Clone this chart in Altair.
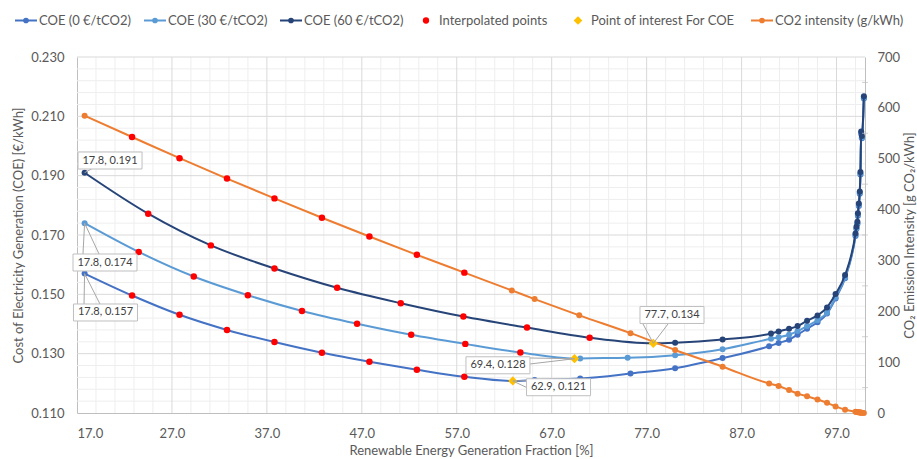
import altair as alt
import pandas as pd

# ---------------- values ----------------
# COE (0 EUR/tCO2)
coe0_x = [17.8, 65.2, 70.0, 75.3, 80.0, 85.0, 89.9, 90.9, 92.0, 92.9, 93.9, 95.0, 96.0, 96.9, 97.9,
          99.0, 99.1, 99.2, 99.25, 99.35, 99.45, 99.52, 99.6, 99.67, 99.88]
coe0_y = [0.157, 0.1211, 0.1216, 0.1233, 0.1251, 0.1285, 0.1325, 0.1336, 0.1347, 0.1364, 0.1384, 0.1406,
          0.1435, 0.1486, 0.1554, 0.1697, 0.1720, 0.1737, 0.1765, 0.1798, 0.1839, 0.1904, 0.2041, 0.2026, 0.2160]
coe0_ix = [22.8, 27.8, 32.8, 37.8, 42.8, 47.8, 52.8, 57.8]
coe0_iy = [0.1496, 0.1431, 0.1380, 0.1339, 0.1303, 0.1273, 0.1246, 0.1222]
coe0_poi = (62.9, 0.1208)

# COE (30 EUR/tCO2)
coe30_x = [17.8, 70.0, 75.0, 80.0, 85.0, 90.1, 90.9, 92.0, 92.9, 93.9, 95.0, 96.0, 96.9, 97.9,
           99.0, 99.1, 99.2, 99.25, 99.35, 99.45, 99.52, 99.6, 99.67, 99.88]
coe30_y = [0.174, 0.1284, 0.1286, 0.1295, 0.1315, 0.1350, 0.1355, 0.1364, 0.1376, 0.1393, 0.1413, 0.1438,
           0.1489, 0.1557, 0.1700, 0.1723, 0.1740, 0.1768, 0.1801, 0.1842, 0.1907, 0.2044, 0.2029, 0.2163]
coe30_ix = [23.5, 29.3, 35.0, 40.7, 46.5, 52.2, 57.9, 63.7]
coe30_iy = [0.1643, 0.1560, 0.1497, 0.1444, 0.1401, 0.1364, 0.1333, 0.1304]
coe30_poi = (69.4, 0.1283)

# COE (60 EUR/tCO2)
coe60_x = [17.8, 80.0, 85.0, 90.1, 90.9, 92.0, 92.9, 93.9, 95.0, 96.0, 96.9, 97.9,
           99.0, 99.1, 99.2, 99.25, 99.35, 99.45, 99.52, 99.6, 99.67, 99.88]
coe60_y = [0.191, 0.1337, 0.1348, 0.1368, 0.1375, 0.1384, 0.1393, 0.1411, 0.1429, 0.1456, 0.1501, 0.1565,
           0.1705, 0.1728, 0.1745, 0.1773, 0.1806, 0.1847, 0.1912, 0.2049, 0.2034, 0.2168]
coe60_ix = [24.5, 31.1, 37.8, 44.4, 51.1, 57.7, 64.4, 71.0]
coe60_iy = [0.1772, 0.1665, 0.1587, 0.1522, 0.1470, 0.1425, 0.1388, 0.1354]
coe60_poi = (77.7, 0.1335)

# CO2 intensity (g/kWh), secondary axis
co2_x = [17.8, 62.8, 65.2, 69.9, 75.3, 80.0, 85.0, 89.9, 90.9, 92.0, 92.9, 93.9, 95.0, 96.0, 96.9, 97.9,
         99.0, 99.1, 99.2, 99.25, 99.35, 99.45, 99.52, 99.6, 99.67, 99.88]
co2_y = [584.6, 241, 224, 192, 157, 124, 91, 58, 53, 45, 38, 33, 26.5, 20, 13, 6.6,
         2.5, 2.1, 1.8, 1.6, 1.3, 1.0, 0.8, 0.6, 0.4, 0.1]
co2_ix = [22.8, 27.8, 32.8, 37.8, 42.8, 47.8, 52.8, 57.8]
co2_iy = [542.7, 501, 461, 422, 384, 347, 311, 276]

# tick labels
x_ticks = [17, 27, 37, 47, 57, 67, 77, 87, 97]
yl_ticks = [0.11, 0.13, 0.15, 0.17, 0.19, 0.21, 0.23]
yr_ticks = [0, 100, 200, 300, 400, 500, 600, 700]

# data labels (text, point, label centre in data units, leader end points)
ann_text = ["17.8, 0.191", "17.8, 0.174", "17.8, 0.157", "62.9, 0.121", "69.4, 0.128", "77.7, 0.134"]
ann_point = [(17.8, 0.191), (17.8, 0.174), (17.8, 0.157), coe0_poi, coe30_poi, coe60_poi]
ann_center = [(20.48, 0.19511), (19.95, 0.16073), (20.00, 0.14388), (67.72, 0.11869), (61.34, 0.12608), (79.67, 0.14304)]
ann_leader = [
    [(18.69, 0.19258)],
    [(17.63, 0.16360), (19.32, 0.16360)],
    [(17.74, 0.14674), (19.42, 0.14674)],
    [(64.40, 0.12090), (64.40, 0.11854)],
    [(64.71, 0.12854), (64.71, 0.12652)],
    [(76.62, 0.14000), (79.25, 0.14000)],
]

# ---------------- layout ----------------
W, H = 788, 356
X_DOM = [17, 100]
YL_DOM = [0.11, 0.23]
YR_DOM = [0, 700]
PX_X = W / (X_DOM[1] - X_DOM[0])
PX_Y = H / (YL_DOM[1] - YL_DOM[0])
FONT = "Lato"
TXT = "#595959"

C0, C30, C60 = "#4472C4", "#5B9BD5", "#264478"
RED, GOLD, ORANGE = "#FF0000", "#FFC000", "#ED7D31"

x_axis = alt.Axis(values=x_ticks, format=".1f", title="Renewable Energy Generation Fraction [%]",
                  grid=False, ticks=False, domainColor="#bfbfbf", labelPadding=14, titlePadding=4)
yl_axis = alt.Axis(values=yl_ticks, format=".3f", title="Cost of Electricity Generation (COE) [€/kWh]",
                   grid=False, ticks=False, domainColor="#bfbfbf", labelPadding=13, titlePadding=5)
yr_axis = alt.Axis(orient="right", values=yr_ticks, format="d", title="CO₂ Emission Intensity [g CO₂/kWh]",
                   grid=False, ticks=False, domainColor="#bfbfbf", labelPadding=12, titlePadding=4,
                   titleAngle=270, titleBaseline="top")


def xe(f="x"):
    return alt.X(f"{f}:Q", scale=alt.Scale(domain=X_DOM, nice=False, zero=False), axis=x_axis)


def yle(f="y"):
    return alt.Y(f"{f}:Q", scale=alt.Scale(domain=YL_DOM, nice=False, zero=False), axis=yl_axis)


def yre(f="y"):
    return alt.Y(f"{f}:Q", scale=alt.Scale(domain=YR_DOM, nice=False, zero=False), axis=yr_axis)


def yte(f="y"):
    return alt.Y(f"{f}:Q", scale=alt.Scale(domain=YL_DOM, nice=False, zero=False), axis=None)


# grid
minor_x = [v for v in range(17, 100, 2) if (v - 17) % 10 != 0]
minor_y = [round(0.11 + 0.004 * i, 3) for i in range(31) if i % 5 != 0]
grid = [
    alt.Chart(pd.DataFrame({"v": minor_x})).mark_rule(color="#eeeeee", strokeWidth=1).encode(x=xe("v")),
    alt.Chart(pd.DataFrame({"v": minor_y})).mark_rule(color="#eeeeee", strokeWidth=1).encode(y=yle("v")),
    alt.Chart(pd.DataFrame({"v": x_ticks[1:]})).mark_rule(color="#d9d9d9", strokeWidth=1).encode(x=xe("v")),
    alt.Chart(pd.DataFrame({"v": yl_ticks[1:]})).mark_rule(color="#d9d9d9", strokeWidth=1).encode(y=yle("v")),
]

series = [
    (C0, coe0_x, coe0_y, coe0_ix, coe0_iy, coe0_poi),
    (C30, coe30_x, coe30_y, coe30_ix, coe30_iy, coe30_poi),
    (C60, coe60_x, coe60_y, coe60_ix, coe60_iy, coe60_poi),
]

left_layers = list(grid)
top_layers = []
for i, (col, xs, ys, ixs, iys, poi) in enumerate(series):
    pts = sorted(list(zip(xs, ys)) + list(zip(ixs, iys)) + [poi])
    ldf = pd.DataFrame(pts, columns=["x", "y"])
    left_layers.append(
        alt.Chart(ldf).mark_line(color=col, strokeWidth=2, interpolate="monotone").encode(x=xe(), y=yle())
    )
    left_layers.append(
        alt.Chart(pd.DataFrame({"x": xs, "y": ys})).mark_point(filled=True, size=36, opacity=1, color=col)
        .encode(x=xe(), y=yle())
    )
    top_layers.append(
        alt.Chart(pd.DataFrame({"x": ixs, "y": iys})).mark_point(filled=True, size=42, opacity=1, color=RED)
        .encode(x=xe(), y=yte())
    )

# secondary axis group
co2_line = sorted(list(zip(co2_x, co2_y)) + list(zip(co2_ix, co2_iy)))
right_layers = [
    alt.Chart(pd.DataFrame(co2_line, columns=["x", "y"])).mark_line(color=ORANGE, strokeWidth=2, interpolate="monotone")
    .encode(x=xe(), y=yre()),
    alt.Chart(pd.DataFrame({"x": co2_x, "y": co2_y})).mark_point(filled=True, size=36, opacity=1, color=ORANGE)
    .encode(x=xe(), y=yre()),
    alt.Chart(pd.DataFrame({"x": co2_ix, "y": co2_iy})).mark_point(filled=True, size=42, opacity=1, color=RED)
    .encode(x=xe(), y=yre()),
    alt.Chart(pd.DataFrame({"v": [50, 150, 250, 350, 450, 550, 650]})).mark_tick(
        orient="horizontal", color="#bfbfbf", thickness=1, size=6).encode(x=alt.value(W), y=yre("v")),
]

# points of interest
poi_df = pd.DataFrame([coe0_poi, coe30_poi, coe60_poi], columns=["x", "y"])
top_layers.append(
    alt.Chart(poi_df).mark_point(filled=True, shape="diamond", size=85, opacity=1, color=GOLD).encode(x=xe(), y=yte())
)

# data labels
lead_rows = []
for (px_, py_), ends in zip(ann_point, ann_leader):
    for (ex, ey) in ends:
        lead_rows.append({"x": px_, "y": py_, "x2": ex, "y2": ey})
top_layers.append(
    alt.Chart(pd.DataFrame(lead_rows)).mark_rule(color="#a6a6a6", strokeWidth=1).encode(
        x=xe(), y=yte(), x2="x2:Q", y2="y2:Q")
)
BW, BH = 64, 17
box_df = pd.DataFrame({
    "t": ann_text,
    "cx": [c[0] for c in ann_center],
    "cy": [c[1] for c in ann_center],
})
box_df["x1"] = box_df["cx"] - BW / 2 / PX_X
box_df["x2"] = box_df["cx"] + BW / 2 / PX_X
box_df["y1"] = box_df["cy"] - BH / 2 / PX_Y
box_df["y2"] = box_df["cy"] + BH / 2 / PX_Y
top_layers.append(
    alt.Chart(box_df).mark_rect(fill="white", stroke="#bfbfbf", strokeWidth=1).encode(
        x=xe("x1"), x2="x2:Q", y=yte("y1"), y2="y2:Q")
)
top_layers.append(
    alt.Chart(box_df).mark_text(font=FONT, fontSize=11, color="#404040", baseline="middle", align="center")
    .encode(x=xe("cx"), y=yte("cy"), text="t:N")
)

# legend (pixel positions relative to the plot area)
legend_items = [
    ("COE (0 €/tCO2)", C0, "line", 26 - 77, 39 - 77),
    ("COE (30 €/tCO2)", C30, "line", 155 - 77, 168 - 77),
    ("COE (60 €/tCO2)", C60, "line", 291 - 77, 304 - 77),
    ("Interpolated points", RED, "dot", 426 - 77, 439 - 77),
    ("Point of interest For COE", GOLD, "diamond", 578 - 77, 591 - 77),
    ("CO2 intensity (g/kWh)", ORANGE, "line", 762 - 77, 775 - 77),
]
LY = 20.5 - 57
one = pd.DataFrame({"a": [0]})
for label, col, kind, sx, tx in legend_items:
    if kind == "line":
        top_layers.append(alt.Chart(one).mark_rule(color=col, strokeWidth=2).encode(
            x=alt.value(sx - 11), x2=alt.value(sx + 11), y=alt.value(LY)))
        top_layers.append(alt.Chart(one).mark_point(filled=True, size=32, opacity=1, color=col).encode(
            x=alt.value(sx), y=alt.value(LY)))
    elif kind == "dot":
        top_layers.append(alt.Chart(one).mark_point(filled=True, size=40, opacity=1, color=col).encode(
            x=alt.value(sx), y=alt.value(LY)))
    else:
        top_layers.append(alt.Chart(one).mark_point(filled=True, shape="diamond", size=75, opacity=1, color=col)
                          .encode(x=alt.value(sx), y=alt.value(LY)))
    top_layers.append(alt.Chart(one).mark_text(font=FONT, fontSize=13, color=TXT, align="left", baseline="middle")
                      .encode(x=alt.value(tx), y=alt.value(LY), text=alt.value(label)))

chart = (
    alt.layer(alt.layer(*left_layers), alt.layer(*right_layers), alt.layer(*top_layers))
    .resolve_scale(y="independent")
    .properties(width=W, height=H, autosize=alt.AutoSizeParams(type="none"),
                padding={"left": 77, "top": 57, "right": 917 - 77 - W, "bottom": 459 - 57 - H},
                background="white")
    .configure_view(stroke=None)
    .configure_axis(labelFont=FONT, labelFontSize=13, labelColor=TXT, titleFont=FONT, titleFontSize=13,
                    titleColor=TXT, titleFontWeight="normal")
)

chart.save("out.html", embed_options={"renderer": "svg", "actions": False})
